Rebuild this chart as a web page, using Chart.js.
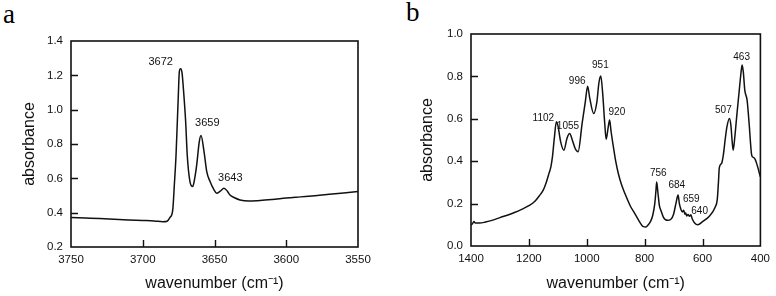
<!DOCTYPE html>
<html><head><meta charset="utf-8">
<script src="https://cdn.jsdelivr.net/npm/chart.js@4"></script>
<style>
html,body{margin:0;padding:0;background:#fff;width:776px;height:296px;overflow:hidden;position:relative}
canvas{position:absolute;top:0}
.lbl{position:absolute;font-family:"Liberation Serif",serif;font-size:27px;color:#000;line-height:1}
</style></head><body>
<div class="lbl" style="left:3px;top:1px">a</div>
<div class="lbl" style="left:406px;top:-1px">b</div>
<canvas id="ca" width="385" height="296" style="left:0;width:385px;height:296px"></canvas>
<canvas id="cb" width="386" height="296" style="left:390px;width:386px;height:296px"></canvas>
<script>
// Panel a: OH stretching region
const wavenumberA = [3750,3740,3730,3720,3710,3700,3692,3686,3683,3681,3679.1,3678,3676.8,3675.2,3674.5,3673.6,3672.6,3671.7,3670.1,3669.0,3667.1,3665.2,3664,3662.4,3660.6,3659.4,3657.3,3655.4,3653.1,3650.5,3648.5,3646,3643.4,3641,3639.2,3636,3632.2,3626,3620,3610,3600,3590,3580,3570,3560,3550];
const absorbanceA = [0.372,0.369,0.366,0.362,0.358,0.355,0.352,0.347,0.350,0.372,0.416,0.56,0.736,1.086,1.222,1.238,1.213,1.125,0.930,0.736,0.581,0.552,0.59,0.678,0.814,0.849,0.756,0.639,0.581,0.535,0.513,0.525,0.542,0.525,0.503,0.487,0.474,0.468,0.470,0.476,0.485,0.492,0.499,0.507,0.515,0.523];
const peakLabelsA = ["3672","3659","3643"];
const peakLabelXA = [3687.5,3655,3639];
const peakLabelYA = [1.28,0.923,0.602];

// Panel b: lattice region
const wavenumberB = [1400,1395,1390,1385,1370,1350,1325,1300,1275,1250,1225,1200,1180,1165,1150,1140,1130,1124,1118.6,1112,1105,1100,1090,1079,1068,1059,1050,1040,1030,1016,1005,997,990,976,965,958,951.6,945,938,933,926,921,916,908,900,891,880,868,850,834,820,806,795,789,780,772,765,761,758.4,754,749,744,735,721,710,700,692,684.5,680,675.6,670,665,661,658,655,650,645,640,636,628,616,600,579,556,549,545,542,534,528,522,516,507,502,498,494,488,482,472,466,463,459,454,446,439,431,427,421,417,412,408,403,400];
const absorbanceB = [0.100,0.105,0.115,0.108,0.108,0.113,0.122,0.134,0.145,0.158,0.173,0.190,0.210,0.235,0.265,0.300,0.345,0.373,0.420,0.510,0.586,0.570,0.490,0.452,0.510,0.531,0.500,0.460,0.444,0.578,0.680,0.754,0.700,0.625,0.680,0.770,0.802,0.720,0.580,0.503,0.560,0.594,0.540,0.468,0.400,0.342,0.290,0.247,0.190,0.153,0.120,0.093,0.090,0.098,0.115,0.145,0.200,0.260,0.302,0.250,0.190,0.169,0.135,0.121,0.125,0.150,0.200,0.240,0.200,0.177,0.161,0.169,0.150,0.156,0.142,0.148,0.140,0.147,0.130,0.110,0.100,0.115,0.137,0.184,0.220,0.300,0.370,0.390,0.430,0.499,0.560,0.602,0.570,0.500,0.452,0.520,0.609,0.750,0.830,0.854,0.820,0.735,0.688,0.578,0.436,0.420,0.415,0.405,0.385,0.366,0.340,0.326];
const peakLabelsB = ["1102","1055","996","951","920","756","684","659","640","507","463"];
const peakLabelXB = [1150,1065,1033,953,896,753,689,639,610,528,465];
const peakLabelYB = [0.603,0.565,0.778,0.854,0.632,0.343,0.287,0.221,0.164,0.641,0.891];

const xTicksA = [3750,3700,3650,3600,3550];
const yTicksA = [0.2,0.4,0.6,0.8,1.0,1.2,1.4];
const xTicksB = [1400,1200,1000,800,600,400];
const yTicksB = [0.0,0.2,0.4,0.6,0.8,1.0];

const FONT = '"Liberation Sans", Arial, sans-serif';

function framePlugin(xt, yt, labels, lx, ly, lfont){
  return {
    id:'frame',
    afterDatasetsDraw(chart){
      const {ctx, chartArea:a, scales:{x,y}} = chart;
      ctx.save();
      ctx.strokeStyle='#111';
      ctx.lineWidth=1.6;
      ctx.strokeRect(a.left, a.top, a.right-a.left, a.bottom-a.top);
      ctx.lineWidth=1.4;
      ctx.beginPath();
      xt.slice(1,-1).forEach(v=>{const px=Math.round(x.getPixelForValue(v))+0.5;ctx.moveTo(px,a.bottom);ctx.lineTo(px,a.bottom-7);});
      yt.slice(1,-1).forEach(v=>{const py=Math.round(y.getPixelForValue(v))+0.5;ctx.moveTo(a.left,py);ctx.lineTo(a.left+7,py);});
      ctx.stroke();
      ctx.fillStyle='#111';
      ctx.font=lfont+'px '+FONT;
      ctx.textAlign='center';ctx.textBaseline='middle';
      labels.forEach((t,i)=>ctx.fillText(t, x.getPixelForValue(lx[i]), y.getPixelForValue(ly[i])));
      ctx.restore();
    }
  };
}

function makeChart(id, xs, ys, xt, yt, xmin, xmax, ymin, ymax, step, ystep, yw, xh, pad, ytPad, labels, lx, ly, lfont){
  const pts = xs.map((v,i)=>({x:v,y:ys[i]}));
  return new Chart(document.getElementById(id), {
    type:'scatter',
    data:{datasets:[{data:pts, showLine:true, borderColor:'#111', borderWidth:1.5, pointRadius:0, fill:false, cubicInterpolationMode:'monotone'}]},
    options:{
      responsive:false, animation:false, devicePixelRatio:1,
      layout:{padding:pad},
      plugins:{legend:{display:false}, tooltip:{enabled:false}},
      scales:{
        x:{type:'linear', reverse:true, min:xmin, max:xmax,
          grid:{display:false, drawTicks:false}, border:{display:false},
          ticks:{stepSize:step, padding:6, color:'#111', font:{family:FONT, size:11.5}, maxRotation:0, callback:v=>String(v)},
          afterBuildTicks(s){s.ticks = xt.map(v=>({value:v}));},
          afterFit(s){s.height = xh;},
          title:{display:true, text:'wavenumber (cm\u207B\u00B9)', color:'#111', font:{family:FONT, size:16}, padding:{top:0,bottom:3}}
        },
        y:{type:'linear', min:ymin, max:ymax,
          grid:{display:false, drawTicks:false}, border:{display:false},
          ticks:{stepSize:ystep, padding:8, color:'#111', font:{family:FONT, size:11.5}, callback:v=>Number(v).toFixed(1)},
          afterBuildTicks(s){s.ticks = yt.map(v=>({value:v}));},
          afterFit(s){s.width = yw;},
          title:{display:true, text:'absorbance', color:'#111', font:{family:FONT, size:16}, padding:{top:ytPad,bottom:0}}
        }
      }
    },
    plugins:[framePlugin(xt, yt, labels, lx, ly, lfont)]
  });
}

makeChart('ca', wavenumberA, absorbanceA, xTicksA, yTicksA, 3550, 3750, 0.2, 1.4, 50, 0.2, 71, 49, {top:41,right:27,left:0,bottom:0}, 20, peakLabelsA, peakLabelXA, peakLabelYA, 11);
makeChart('cb', wavenumberB, absorbanceB, xTicksB, yTicksB, 400, 1400, 0.0, 1.0, 200, 0.2, 81, 50, {top:34,right:12,left:0,bottom:0}, 28, peakLabelsB, peakLabelXB, peakLabelYB, 10);
</script>
</body></html>
